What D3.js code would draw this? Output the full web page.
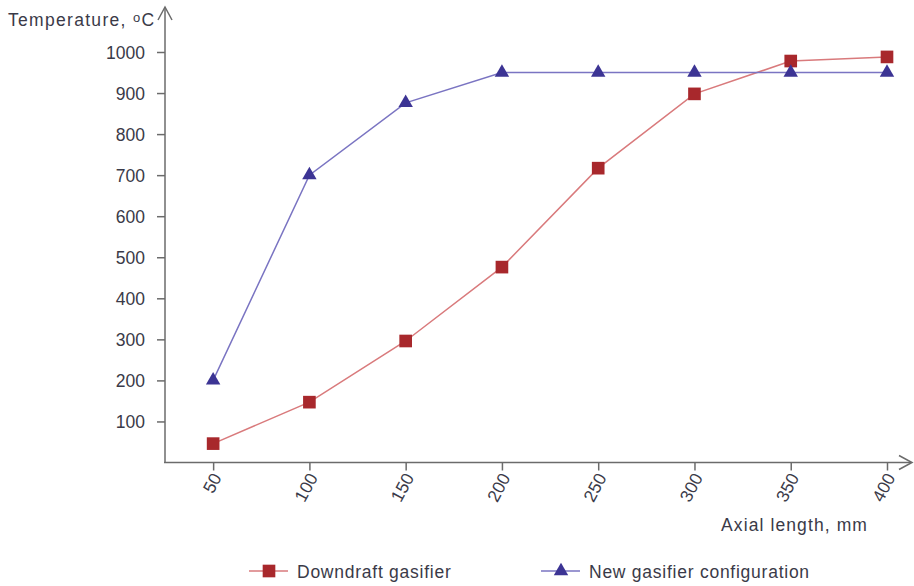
<!DOCTYPE html>
<html><head><meta charset="utf-8">
<script src="https://cdn.jsdelivr.net/npm/d3@7"></script>
<style>body{margin:0;background:#fff}svg{display:block}text{font-family:"Liberation Sans",Arial,sans-serif}</style>
</head><body><svg id="c" width="914" height="586"></svg>
<script>
const categories = [50, 100, 150, 200, 250, 300, 350, 400];
const downdraft = [46, 147, 296, 476, 717, 898, 978, 988];
const newConfig = [200, 700, 876, 950, 950, 950, 950, 950];
const yTicks = [100, 200, 300, 400, 500, 600, 700, 800, 900, 1000];
const seriesNames = ["Downdraft gasifier", "New gasifier configuration"];

const svg = d3.select("#c");
const x = d3.scaleLinear().domain([25, 400]).range([165, 887]);
const y = d3.scaleLinear().domain([0, 1000]).range([462.5, 52]);
const axisCol = "#6b6b6b", txtCol = "#3a3a48";
const redM = "#a8282c", redL = "#d97a7c", bluM = "#3c3494", bluL = "#7a74c2";
const FS = 17.5;

// axes
const yAxis = svg.append("g").attr("transform", "translate(165,0)")
  .call(d3.axisLeft(y).tickValues(yTicks).tickFormat(d3.format("d")).tickSize(8).tickPadding(12));
const xAxis = svg.append("g").attr("transform", "translate(0,462.5)")
  .call(d3.axisBottom(x).tickValues(categories).tickFormat(d3.format("d")).tickSize(8));
[yAxis, xAxis].forEach(g => {
  g.attr("font-family", null).attr("font-size", null);
  g.select(".domain").remove();
  g.selectAll("line").attr("stroke", axisCol).attr("stroke-width", 1.5);
  g.selectAll("text").attr("fill", txtCol).attr("font-size", FS);
});
yAxis.selectAll("text").attr("dy", "0.36em");
xAxis.selectAll("text").attr("text-anchor", "end").attr("dy", "0.35em")
  .attr("transform", "translate(3,12) rotate(-62)").attr("x", 0).attr("y", 0);

// axis lines with arrows
svg.append("line").attr("x1", 165).attr("x2", 165).attr("y1", 463).attr("y2", 7)
  .attr("stroke", axisCol).attr("stroke-width", 1.5);
svg.append("path").attr("d", "M158,20 L165,7 L172,20").attr("fill", "none")
  .attr("stroke", axisCol).attr("stroke-width", 1.5);
svg.append("line").attr("x1", 164).attr("x2", 911).attr("y1", 462.5).attr("y2", 462.5)
  .attr("stroke", axisCol).attr("stroke-width", 1.5);
svg.append("path").attr("d", "M899,455.5 L912,462.5 L899,469.5").attr("fill", "none")
  .attr("stroke", axisCol).attr("stroke-width", 1.5);

// titles
const yt = svg.append("text").attr("x", 8).attr("y", 26).attr("font-size", FS).attr("fill", txtCol)
  .attr("letter-spacing", 1.3).text("Temperature, ");
yt.append("tspan").attr("font-size", 13).attr("dy", -4).text("o");
yt.append("tspan").attr("font-size", FS).attr("dy", 4).text("C");
svg.append("text").attr("x", 868).attr("y", 531).attr("text-anchor", "end")
  .attr("font-size", FS).attr("fill", txtCol).attr("letter-spacing", 1.1).text("Axial length, mm");

// series
const line = d3.line().x(d => x(d[0])).y(d => y(d[1]));
const dd = categories.map((c, i) => [c, downdraft[i]]);
const nc = categories.map((c, i) => [c, newConfig[i]]);
svg.append("path").datum(dd).attr("d", line).attr("fill", "none").attr("stroke", redL).attr("stroke-width", 1.5);
svg.append("path").datum(nc).attr("d", line).attr("fill", "none").attr("stroke", bluL).attr("stroke-width", 1.5);
const sq = d3.symbol().type(d3.symbolSquare).size(160);
const tri = d3.symbol().type(d3.symbolTriangle).size(90);
svg.selectAll(".sq").data(dd).join("path").attr("class", "sq")
  .attr("d", sq).attr("transform", d => `translate(${x(d[0])},${y(d[1])})`).attr("fill", redM);
svg.selectAll(".tri").data(nc).join("path").attr("class", "tri")
  .attr("d", tri).attr("transform", d => `translate(${x(d[0])},${y(d[1])})`).attr("fill", bluM);

// legend
const leg = [
  {name: seriesNames[0], lc: redL, mc: redM, sym: sq, x0: 249},
  {name: seriesNames[1], lc: bluL, mc: bluM, sym: tri, x0: 541}
];
leg.forEach(l => {
  const g = svg.append("g").attr("transform", `translate(${l.x0},571)`);
  g.append("line").attr("x1", 0).attr("x2", 39).attr("stroke", l.lc).attr("stroke-width", 1.5);
  g.append("path").attr("d", l.sym).attr("transform", "translate(20,0)").attr("fill", l.mc);
  g.append("text").attr("x", 48).attr("y", 6.5).attr("font-size", FS).attr("fill", txtCol)
    .attr("letter-spacing", 0.75).text(l.name);
});
</script></body></html>
